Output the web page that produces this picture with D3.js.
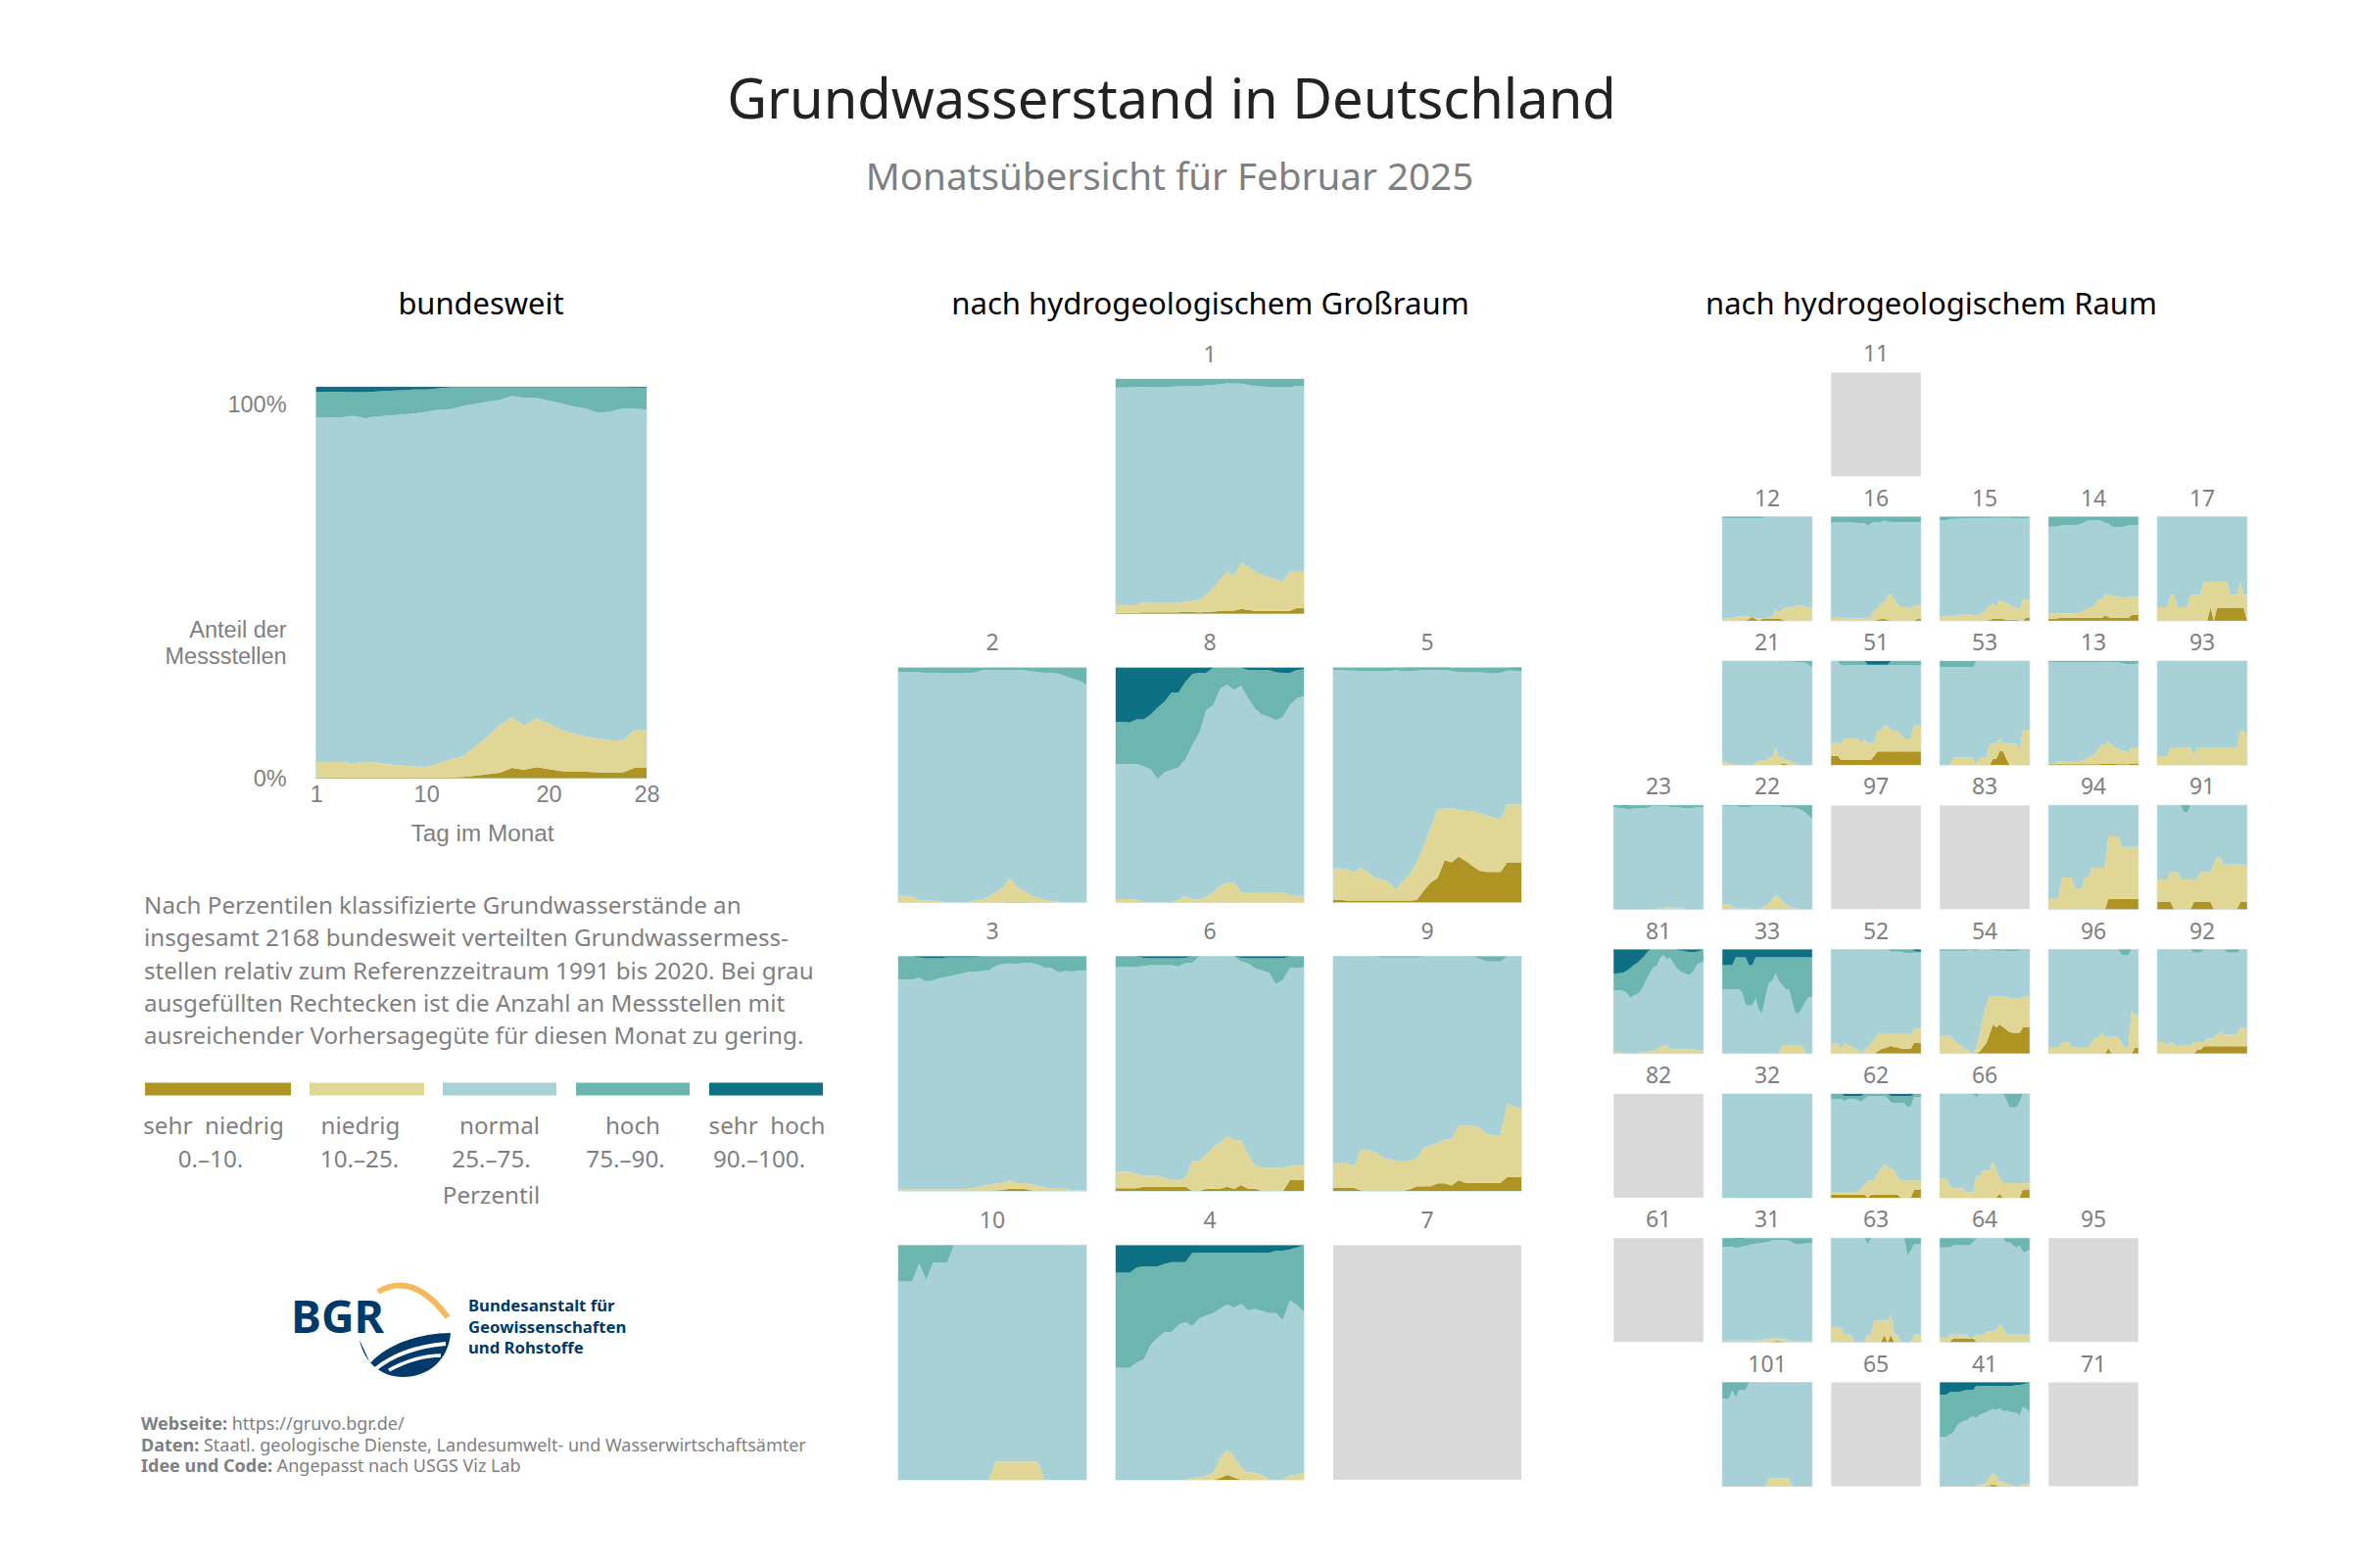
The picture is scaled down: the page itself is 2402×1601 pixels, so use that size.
<!DOCTYPE html>
<html>
<head>
<meta charset="utf-8">
<script src="https://cdn.jsdelivr.net/npm/d3@7"></script>
<style>
  html, body { margin: 0; background: #fff; }
  svg text { font-family: "Noto Sans", sans-serif; white-space: pre; }
  .arial text, text.arial { font-family: "Liberation Sans", Arial, sans-serif; }
</style>
</head>
<body>
<div id="chart"></div>
<script>
// Werte abgelesen: obere Kante jeder Klasse in % pro Tag
// Reihenfolge: [sehr niedrig, niedrig, normal, hoch]; sehr hoch geht immer bis 100
const zero = [0,0,0,0,0,0,0,0,0,0,0,0,0,0,0,0,0,0,0,0,0,0,0,0,0,0,0,0];
const full = [100,100,100,100,100,100,100,100,100,100,100,100,100,100,100,100,100,100,100,100,100,100,100,100,100,100,100,100];

const classNames = ["sehr  niedrig", "niedrig", "normal", "hoch", "sehr  hoch"];
const classRanges = ["0.–10.", "10.–25.", "25.–75.", "75.–90.", "90.–100."];
const classColors = ["#af9323", "#e0d797", "#a8d1d7", "#6db6af", "#0d7083"];
const dayTicks = [1, 10, 20, 28];

const bund = [
  [.2,.2,.2,.2,.2,.2,.2,.2,.2,.2,.2,.2,.3,.6,1,1.4,2.6,2.1,2.8,2.3,1.8,1.6,1.6,1.5,1.4,1.4,2.6,2.6],
  [4.1,4.1,4.1,3.8,4.1,4,3.5,3.2,3,2.9,3.8,4.8,5.6,8,10.5,13.5,15.5,13.5,15.3,14,12.3,11.4,10.7,10.1,9.7,9.6,12.2,12.2],
  [92.2,92.2,92.2,92.6,92,92.4,92.7,92.9,93.2,93.6,94.2,94.3,95.1,95.6,96.2,96.6,97.7,97.2,97.2,96.5,95.8,95,94.5,93.4,93.6,94.4,94.4,94.2],
  [98.7,98.7,98.7,98.6,98.6,98.8,99,99.1,99.3,99.3,99.6,99.9,99.9,99.9,99.9,99.9,99.9,99.9,99.9,99.9,99.9,99.9,99.9,99.9,99.9,99.9,99.8,99.8]
];

const p1 = [
  [.3,.3,.3,.3,.5,.5,.5,.5,.5,.5,.8,.6,.5,.6,.8,1.2,1.3,1.3,2,1.6,1.2,1.2,1.2,1.2,1.2,1.2,2.4,2.4],
  [3.7,3.7,3.6,3.6,5,4.5,4.5,4.5,4.5,4.5,5.1,5.3,6,8,11,14.5,18,16,21.5,20,18,16.5,15.5,14.5,13.7,17.9,17.9,17.9],
  [96.3,96.3,96.5,96.6,96.6,96.7,96.7,96.7,96.7,96.9,96.9,96.9,97,97.3,97.5,97.8,98.1,98,98,97.5,97,96.8,96.5,96.5,96.5,96.5,97.1,97],
  full
];
const p2 = [
  [0,0,0,0,0,0,0,0,0,0,0,0,0,0,0,0,.3,.1,.3,0,0,0,0,0,0,0,0,0],
  [2.7,2.7,2.6,1,1,.6,.3,0,0,0,0,1,1.2,2.3,4.5,6,10.5,6.5,5,3,2,1,.5,.2,0,0,0,0],
  [98.1,98.1,98.1,98,97.7,97.7,97.6,97.6,97.6,97.6,97.7,97.9,98.9,99,99,99,99,99.1,98.9,98.5,98.1,97.8,97.7,97.5,96.4,95.3,94.5,92.7],
  full
];
const p8 = [
  zero,
  [1.4,1.4,1.4,1.2,0,0,0,0,0,1,2.7,1.2,1.2,2.5,4.5,7,8.5,8.5,4.3,4.3,4.3,4.3,4.3,4.3,4.3,3,2.7,2.7],
  [59,59,59,59,58,56.7,52.5,55.5,56.5,57.5,61,67,72,82,84,91,92.7,90.5,92.3,87,82.5,80,79,77.5,79,84,87,88],
  [76.8,76.8,76.6,78,78,80,83,85.5,89.4,89.4,94,97.3,97.8,97.8,100,100,100,100,100,99,99,99,99,98,97.8,97.8,99,99.4]
];
const p5 = [
  [1.1,1.1,.7,.7,.7,.7,.7,.7,.7,.7,.7,.7,1,5,8.5,10.5,18,17,19.5,17.7,15.5,13.5,13,13,13,17,17,17],
  [14.4,14.4,14.2,13,14.8,12.5,10.5,9.8,8.5,5.5,9,12,17,24,32,39.5,40,40,39.5,39,39,38,37,36,35.5,41.7,41.7,41.7],
  [99,99,98.8,98.8,98.5,98.5,98.5,98.5,98.6,99,98.6,98.5,98.8,99,99,99,99,98.7,98,98,98,98,97.8,97.5,97.8,98.8,98.8,98.4],
  [100,100,100,100,100,100,100,100,100,100,100,99.8,99.8,99.8,99.8,99.8,99.8,100,100,100,100,100,100,100,100,100,99.7,99.7]
];
const p3 = [
  [0,0,0,0,0,0,0,0,0,0,0,0,0,0,.2,.5,1,1,1,.4,0,0,0,0,0,0,0,0],
  [.8,.8,.8,.8,.8,.8,.8,.8,.8,.8,1,1.3,2,2.6,3.2,3.4,4.5,3.4,3.4,3,2,1.7,1,1,.9,.4,.4,.4],
  [90.1,90.1,90.1,91,89.4,89.8,90.7,91.3,92,92.6,93.4,93.5,93.8,94,96,96.8,97,96.8,97.2,97.2,96.6,95.2,95,93.2,93.8,93.6,94,94],
  [100,100,100,99.6,99.2,99.2,99.2,99.6,99.6,99.6,99.6,99.6,100,100,100,100,100,100,100,100,100,100,100,100,100,100,100,100]
];
const p6 = [
  [1.2,1.2,1.2,1.2,1.8,1.8,1.8,1.8,1.8,1.8,1.8,0,0,1,1,1,1.8,.9,2.5,1,1,0,0,0,0,4.6,4.6,4.6],
  [8.2,8.2,8.2,7.3,6.5,6.5,6.5,5.5,4.7,4.7,5.5,12.7,12.7,15.5,19,20.5,23.5,21.5,21.8,15.5,11,10,10,10,10,10.8,11,11],
  [95.5,95.5,95.5,95.5,96,96.3,96.3,96.3,96.3,95.7,97.2,97.2,100,100,100,100,100,100,97.8,97,95,94,93,88.2,90,95,95,95.5],
  [100,100,100,100,99.4,99.2,99.2,99.2,99.2,99.2,99.4,100,100,100,100,100,100,100,99.4,99.2,99.2,99.2,99.2,99.2,99.2,100,100,100]
];
const p9 = [
  [1.3,1.3,1.3,1.3,.2,0,0,0,0,0,0,.8,2,2,2,3.3,3.3,2.3,4.6,3.5,3.5,3.5,3.5,3.5,3.5,6,6,6],
  [11.8,11.8,11.8,10.6,17.6,17.5,16.5,14.5,13.5,13,13,13,14,18.5,19.5,20.5,22,22,28,28,28,27,24.5,23.5,23.5,37.5,36,35],
  [100,100,100,100,100,100,100,99.5,99.5,99.5,99.5,99.5,99.5,100,100,100,100,100,100,100,100,99,97.8,97.8,97.8,100,100,100],
  full
];
const p10 = [
  zero,
  [0,0,0,0,0,0,0,0,0,0,0,0,0,0,7.8,7.8,7.8,7.8,7.8,7.8,7.8,0,0,0,0,0,0,0],
  [84.5,84.5,84.5,92.3,85,92.5,92.5,92.5,100,100,100,100,100,100,100,100,100,100,100,100,100,100,100,100,100,100,100,100],
  full
];
const p4 = [
  [0,0,0,0,0,0,0,0,0,0,0,0,0,0,0,.8,2,1,0,0,0,0,0,0,0,0,0,0],
  [0,0,0,0,0,0,0,0,0,0,0,.8,1,1.8,3,9,12.8,10,5,3.2,3,2,.2,0,0,1.8,2,3],
  [47.7,47.7,47.7,50,51.2,57.5,60.5,63,63,66,67.2,65.5,68.8,70,71,73,74.7,73.3,75,72.2,72.8,72,71,71,68,76.5,74.5,71.7],
  [88.3,88.3,88.3,90.5,91,91,91,92,92.8,92.8,92.8,96.7,96.7,96.7,96.7,96.7,96.7,96.7,96.7,96.7,96.7,96.7,96.7,97.7,97.7,98.2,99,100]
];

const p12 = [
  [0,0,0,0,0,0,0,0,1.5,3.5,1.5,0,1.5,2,2,2,2,2,1,0,0,0,0,0,0,0,0,0],
  [2,2,2,2,4,4,4,4,3.5,3.5,2.5,2.5,2,2.5,3,3,11,7,11,12.5,12.5,12.5,14.5,14.5,14.5,13,13,12],
  [98.6,98.6,98.6,98.6,98.6,98.6,98.6,98.6,98.6,98.6,98.6,98.6,98.6,100,100,100,100,100,100,100,100,100,100,100,100,100,100,100],
  full
];
const p16 = [
  [0,0,0,0,0,0,0,0,0,0,0,0,0,0,1,1.5,1.5,1,0,0,0,0,0,0,0,0,1.5,1.5],
  [3.5,3.5,3.5,2,2,2,2,2,2,2,2,3,3.5,11,11.5,17,17,24,25.5,21,16,13,13,13,11,14.5,14.5,14.5],
  [94.5,94.5,94.5,94.5,94.5,94.5,94.5,94.5,94,94,94,91.5,94,94.5,95,95,96.5,95.5,95,95,95,95,95,95,95,95,95,95],
  full
];
const p15 = [
  [0,0,0,0,0,0,0,0,0,0,0,0,0,0,0,1,1.5,2,2,1.5,1,1,1,1,0,0,3,3],
  [4.5,4,4,4,4.5,5,5,5.5,5.5,6,5,5,6.5,7,11,14,17,13,20,18.5,17,15,13.5,12.5,11,20,20.5,20.5],
  [97,97,97,97.5,98,98,98.2,98.2,98.4,98.5,98.5,98.5,98.5,98.5,98.5,98.7,99,99,99,99,99,99,98.5,98.5,98.5,98.5,98.7,99],
  full
];
const p14 = [
  [1.5,1.5,1.5,2.5,2.5,2.5,2.5,2.5,2.5,2.5,2.5,2.5,2.5,2.5,2.5,2.5,2.5,5,3.5,2.5,2.5,2.5,2.5,2.5,2.5,5.5,5.5,5.5],
  [7,7,7,7,7,7,7,7,7,7,8,11,11,13,16,20.5,19.5,26,25,24,24,23,22.5,22,23,23,23,23],
  [90.5,90.5,90.5,91,92,92,92,92,92,92.5,93.5,95,97,97,97,97,96,94,93.5,91,90,90,90,91,91.5,92,92,92],
  full
];
const p17 = [
  [0,0,0,0,0,0,0,0,0,0,0,0,0,0,0,0,13,0,12.5,12.5,12.5,12.5,12.5,12.5,12.5,12.5,12.5,0],
  [13,13,13,13,25,25,13,13,13,13,25,25,25,25,37.5,37.5,37.5,37.5,37.5,37.5,37.5,37.5,25,25,25,37,25,25],
  full, full
];
const p21 = [
  [0,0,0,0,0,0,0,0,0,0,0,0,0,0,0,0,0,0,1,1,0,0,0,0,0,0,0,0],
  [2.5,2.5,1.5,1,1,0,0,0,0,0,2,4,4,4,7,7,17,7,7,5,4,3,1,0,0,0,0,0],
  [100,100,100,100,100,100,100,100,100,100,100,100,100,100,100,100,100,100,100,99.5,99.5,99.5,99,99,98.5,98.5,96,94],
  full
];
const p51 = [
  [8.8,8.8,8.8,4.7,4.7,4.7,4.7,4.7,4.7,4.7,4.7,4.7,4.7,9,13,13,13,13,13,13,13,13,13,13,13,13,13,13],
  [21,21,21,21,25.5,25.5,25.5,25.5,25.5,21,24.5,21,21,21,33,33,38,38,33,33,33,29,25.5,25.5,25.5,38,38,38],
  [100,100,100,96.3,96.3,96.3,96.3,96.3,96.3,96.3,96.3,96.3,96.3,96.3,96.3,96.3,96.3,96.3,96.3,96.3,96.3,96.3,96.3,96.3,96.3,96.3,96.3,96.3],
  [100,100,100,100,100,100,100,100,100,100,100,96.5,96.5,96.5,96.5,96.5,96.5,96.5,100,100,100,100,100,100,100,100,100,100]
];
const p53 = [
  [0,0,0,0,0,0,0,0,0,0,0,0,0,0,0,0,6,6,13.5,13.5,6,0,0,0,0,0,0,0],
  [0,0,0,0,7,7,7,7,7,7,7,0,7,7,7,20.5,20.5,20.5,26,20.5,20.5,20.5,20.5,20.5,14,34,34,34],
  [94,94,94,94,94,94,94,94,94,94,94,100,100,100,100,100,100,100,100,100,100,100,100,100,100,100,100,100],
  full
];
const p13 = [
  [.7,.7,.7,.7,.7,.7,.7,.7,.7,.7,.7,.7,.7,.7,.7,.7,1,1.2,1.5,1.5,1,.8,.8,.8,.8,1.5,1.5,1.5],
  [2,2,2,3.5,3,3,2.5,2.5,3,3.5,4,5.5,7,9,11,15,20,18,22,19,17,15.5,14,13.5,12,17,17,17],
  [98.5,98.5,98.5,98.5,98.5,98.5,98.5,98.5,98.5,98.5,98.5,98.5,98.5,98.5,98.5,98.5,99,99,98.8,98.5,98.5,98.5,98,97.5,97,97,97.5,97.5],
  full
];
const p93 = [
  zero,
  [8.5,8.5,8.5,8.5,17,17,17,17,17,17,17,8.5,17,17,17,17,17,17,17,17,17,17,17,17,17,34,34,27],
  full, full
];
const p23 = [
  zero,
  [0,0,0,0,0,0,0,0,0,0,0,0,0,.5,1.5,1,2.5,1.5,2,1,1,.5,0,0,0,0,0,0],
  [98,98,97,97,96.5,96.5,97,97,97.5,97.5,97.5,98.5,99,99,99,99,99,98.5,98,98,98,97.5,97.5,97.5,97.5,98.5,98,98.5],
  [100,100,100,99.5,99.5,100,100,100,100,100,100,100,100,100,100,100,100,100,100,100,100,100,100,100,100,100,100,100]
];
const p22 = [
  zero,
  [5,5,5,2,1.5,1,1,.5,.5,.3,.3,.3,2,3,5,9,13.5,11,8,5,2.5,1.5,1,.5,0,0,0,0],
  [99,99,99,99,99,98.5,98.5,98.5,98.5,99,99,99,99,99,99,99,99,99,98.5,98.5,98,98,97.5,96.5,95,93,90,87],
  full
];
const p94 = [
  [0,0,0,0,0,0,0,0,0,0,0,0,0,0,0,0,0,0,10,10,10,10,10,10,10,10,10,10],
  [10,10,10,10,30.5,30.5,30.5,30.5,20,20,20,30.5,30.5,40,40,40,40,40,70,70,70,70,60,60,60,60,60,60],
  full, full
];
const p91 = [
  [7,7,7,7,7,0,0,0,0,0,0,7,7,7,7,7,7,0,0,0,0,0,0,0,0,7,7,7],
  [28.5,28.5,28.5,28.5,36,36,36,28.5,28.5,28.5,28.5,28.5,28.5,36,36,36,36,43,50,50,43,43,43,43,43,43,43,43],
  [100,100,100,100,100,100,100,100,93.5,93.5,100,100,100,100,100,100,100,100,100,100,100,100,100,100,100,100,100,100],
  full
];
const p81 = [
  zero,
  [1.5,1.5,1.5,0,0,0,0,0,1,1.5,1.5,2,3,4,6,7.5,7.5,4,4,4,4,4,4,4,4,3,3,3],
  [61,61,61,60,58,53.5,56,57,60,65,72,78,83,84,92,95,91,92,87,82,79,77.5,76,76,79,85,87,88],
  [77,77,77.5,78,80,82,85,87,90,93,97,100,100,100,100,100,100,100,100,100,99,99,98,97.5,97.5,98,99,100]
];
const p33 = [
  zero,
  [0,0,0,0,0,0,0,0,0,0,0,0,0,0,0,0,0,0,8,8,8,8,8,8,8,0,0,0],
  [62,62,62,62,62,62,58,47,46,46,53,42,38.5,55,68,70,77,70,66,62,62,50,38.5,38.5,44,50,54,54],
  [85,85,85,85,92.5,92.5,92.5,92.5,85,85,92.5,92.5,92.5,92.5,92.5,92.5,92.5,92.5,92.5,92.5,92.5,92.5,92.5,92.5,92.5,92.5,92.5,92.5]
];
const p52 = [
  [0,0,0,0,0,0,0,0,0,0,0,0,0,0,2,4,5,6,7.5,6,6,4.5,4.5,4.5,4.5,10,10,10],
  [10,10,10,4,10,8,7,5,4,0,3.5,6,10,13,19.5,19.5,19.5,19.5,19.5,19.5,19.5,19.5,19.5,19.5,17,24,24,24],
  [100,100,100,100,100,100,100,100,100,100,100,100,100,100,100,100,100,100,98,98,98,98,97,96.5,96.5,97,97,97],
  [100,100,100,100,100,100,100,100,100,100,100,100,100,100,100,100,100,100,100,100,100,100,100,100,100,99,98,98]
];
const p54 = [
  [0,0,0,0,0,0,0,0,0,0,0,0,2,6,10,19,28,25,28,25.5,23,20.5,20,20,20,25,25,25],
  [17.5,17.5,17.5,17,14,10,8,6,4,2,0,6,18,35,46,54.5,54.5,54.5,54.5,54.5,54.5,53.5,53.5,53,52.5,54.5,54.5,54.5],
  [99,99,99,99,99,99,99,99,99,100,99,99,100,100,100,100,99,99,99,99,99,98.5,98.5,99,99,100,100,99],
  full
];
const p96 = [
  [0,0,0,0,0,0,0,0,0,0,0,0,0,0,0,0,0,0,5,0,0,0,0,0,0,0,5.5,5.5],
  [5.5,5.5,5.5,5.5,11,11,11,5.5,5.5,5.5,5.5,5.5,5.5,11,15,15,20,16,16,16,16,16,10,5.5,5.5,42,37,37],
  [100,100,100,100,100,100,100,100,100,100,100,100,100,100,100,100,100,100,100,100,100,100,95,95,95,100,100,100],
  full
];
const p92 = [
  [0,0,0,0,0,0,0,0,0,0,0,0,3.5,3.5,7,7,7,7,7,7,7,7,7,7,7,7,7,7],
  [11,11,11,7.5,11,9,7.5,7.5,7.5,7.5,7.5,11,11,11,11,14.5,14.5,14.5,18,21,18,18,18,18,18,25,25,25],
  [100,100,100,100,100,100,100,100,100,100,100,97,97,97,100,100,100,100,100,100,100,97,97,97,97,100,100,100],
  full
];
const p32 = [zero, zero, full, full];
const p62 = [
  [3,3,3,3,3,3,3,3,3,3,3,0,3,3,3,3,3,3,3,3,3,0,0,0,0,8,8,8],
  [5.5,5.5,5.5,5.5,5.5,5.5,5.5,5.5,5.5,8,12,17,17,17,24,27,33,30,28,27,20,17,17,17,17,17,17,17],
  [95,95,95,95,93,95,95,95,94,92.5,95,98,98,98,98,98,98,96,92,91,91,91,91,87,88,97,97,97],
  [100,100,100,100,98,98,98,98,98,98,100,100,100,100,100,100,100,100,98,98,98,98,98,98,98,100,100,100]
];
const p66 = [
  [0,0,0,0,0,0,0,0,0,0,0,0,0,0,0,0,0,0,4,0,0,0,0,0,0,8,8,8],
  [18,18,18,12,9,9,9,9,5,5,5,21,21,26,26,26,35,26,20,14,14,14,14,14,14,14,14,14],
  [100,100,100,100,100,100,100,100,100,100,100,96.5,100,100,100,100,100,100,100,100,94,87,87,87,92,100,100,100],
  full
];
const p31 = [
  [0,0,0,0,0,0,0,0,0,0,0,0,0,0,0,.3,1,1,.3,0,0,0,0,0,0,0,0,0],
  [1.3,1.3,1.3,1.3,1.3,1.3,1.3,1.3,1.3,1.3,1.3,1.5,2,2.5,3,3.5,4.5,3.5,3,2.5,1.5,1,1.3,1.2,1.2,1.2,1.2,1.2],
  [91.5,91.5,91.5,92,90.5,91,92,92.5,93,94,94.5,95,95.5,96,96.5,98,98,98,98,98,97.5,96,94,94,94,95,95,95],
  [100,100,100,100,99.5,99.5,99.5,100,100,100,100,100,100,100,100,100,100,100,100,100,100,100,100,100,100,100,100,100]
];
const p63 = [
  [0,0,0,0,0,0,0,0,0,0,0,0,0,0,0,0,6.5,0,6.5,0,0,0,0,0,0,0,0,0],
  [14,14,14,14,7,7,7,0,0,0,0,7,7,20.5,20.5,20.5,20.5,20.5,26,7,7,0,0,0,0,7,7,7],
  [100,100,100,100,100,100,100,100,100,100,100,94,100,100,100,100,100,100,100,100,100,100,100,83,88,94,94,94],
  full
];
const p64 = [
  [0,0,0,0,3.5,3.5,3.5,3.5,3.5,3.5,3.5,0,0,0,0,0,0,0,0,0,0,0,0,0,0,0,0,0],
  [4,4,4,7,7,7,7,7,7,4,4,7,7,7,10,10,10,12,17,14,7,7,7,7,7,7,7,7],
  [91,91,91,91,93,93,93,93,93,93,96,100,100,100,100,100,100,100,100,100,96,96,93,91,93,87,87,89],
  full
];
const p101 = p10;  // identisch mit Großraum 10
const p41 = p4;    // identisch mit Großraum 4

const grossraumRows = [
  ["", "1", ""],
  ["2", "8", "5"],
  ["3", "6", "9"],
  ["10", "4", "7"]
];
const raumRows = [
  ["", "", "11", "", "", ""],
  ["", "12", "16", "15", "14", "17"],
  ["", "21", "51", "53", "13", "93"],
  ["23", "22", "97", "83", "94", "91"],
  ["81", "33", "52", "54", "96", "92"],
  ["82", "32", "62", "66", "", ""],
  ["61", "31", "63", "64", "95", ""],
  ["", "101", "65", "41", "71", ""]
];
// Regionen ohne Reihe sind grau
const series = {
  "1": p1, "2": p2, "8": p8, "5": p5, "3": p3, "6": p6, "9": p9, "10": p10, "4": p4,
  "12": p12, "16": p16, "15": p15, "14": p14, "17": p17,
  "21": p21, "51": p51, "53": p53, "13": p13, "93": p93,
  "23": p23, "22": p22, "94": p94, "91": p91,
  "81": p81, "33": p33, "52": p52, "54": p54, "96": p96, "92": p92,
  "32": p32, "62": p62, "66": p66,
  "31": p31, "63": p63, "64": p64,
  "101": p101, "41": p41
};

const paragraph = [
  "Nach Perzentilen klassifizierte Grundwasserstände an",
  "insgesamt 2168 bundesweit verteilten Grundwassermess-",
  "stellen relativ zum Referenzzeitraum 1991 bis 2020. Bei grau",
  "ausgefüllten Rechtecken ist die Anzahl an Messstellen mit",
  "ausreichender Vorhersagegüte für diesen Monat zu gering."
];

const grey = "#7f7f7f";
const svg = d3.select("#chart").append("svg")
  .attr("width", 2402).attr("height", 1601)
  .attr("viewBox", "0 0 2402 1601");

const addText = (sel, x, y, str, size, fill, anchor = "middle", weight = 400) =>
  sel.append("text")
    .attr("x", x).attr("y", y)
    .attr("text-anchor", anchor)
    .attr("font-size", size)
    .attr("font-weight", weight)
    .attr("fill", fill)
    .text(str);

// eine Kachel: gestapelte Flächen oder graues Rechteck
const drawPanel = (g, data, w, h) => {
  if (!data) {
    g.append("rect").attr("width", w).attr("height", h).attr("fill", "#d9d9d9");
    return null;
  }
  const x = d3.scaleLinear().domain([1, 28]).range([0, w]);
  const y = d3.scaleLinear().domain([0, 100]).range([h, 0]);
  const days = d3.range(1, 29);
  const edges = [zero, ...data, full];
  // heller Rand wie im Original
  g.append("rect").attr("width", w).attr("height", h)
    .attr("fill", "none").attr("stroke", "#a8d1d7").attr("stroke-width", 1).attr("stroke-opacity", 0.7);
  classColors.forEach((c, i) => {
    const area = d3.area()
      .x(d => x(d))
      .y0(d => y(edges[i][d - 1]))
      .y1(d => y(edges[i + 1][d - 1]));
    g.append("path").attr("d", area(days)).attr("fill", c);
  });
  return x;
};

const drawGrid = (rows, x0, y0, w, h, stepX, stepY, labelDy, labelSize) => {
  rows.forEach((row, r) => row.forEach((name, c) => {
    if (!name) return;
    const g = svg.append("g")
      .attr("transform", `translate(${x0 + c * stepX},${y0 + r * stepY})`);
    drawPanel(g, series[name], w, h);
    addText(g, w / 2, labelDy, name, labelSize, grey);
  }));
};

// Titel
addText(svg, 1196, 120.5, "Grundwasserstand in Deutschland", 56, "#222");
addText(svg, 1194, 193.5, "Monatsübersicht für Februar 2025", 38.6, grey);
addText(svg, 491, 320.5, "bundesweit", 30.9, "#000");
addText(svg, 1235.5, 320.5, "nach hydrogeologischem Großraum", 31.1, "#000");
addText(svg, 1971.5, 320.5, "nach hydrogeologischem Raum", 31, "#000");

// bundesweit
const mainW = 337.3, mainH = 399.5;
const mainG = svg.append("g").attr("transform", "translate(322.7,395)");
const mainX = drawPanel(mainG, bund, mainW, mainH);
const axisG = mainG.append("g")
  .attr("class", "arial")
  .attr("transform", `translate(0,${mainH})`)
  .call(d3.axisBottom(mainX).tickValues(dayTicks).tickSize(0).tickPadding(7.5).tickFormat(d3.format("d")));
axisG.select(".domain").remove();
axisG.selectAll("text").attr("font-size", 23.5).attr("fill", grey);

const leftLabels = svg.append("g").attr("class", "arial");
addText(leftLabels, 292.6, 420.5, "100%", 23.5, grey, "end");
addText(leftLabels, 292.6, 803, "0%", 23.5, grey, "end");
addText(leftLabels, 292.6, 651, "Anteil der", 23.5, grey, "end");
addText(leftLabels, 292.6, 677.5, "Messstellen", 23.5, grey, "end");
addText(leftLabels, 492.5, 858.5, "Tag im Monat", 24.3, grey);

// Text
paragraph.forEach((line, i) => addText(svg, 147, 933 + i * 33.3, line, 24.2, grey, "start"));

// Legende
const legendBands = [[148, 297], [316, 433], [452, 568], [588, 704], [724, 840]];
const legendTextX = [218, 368, 510, 646, 783];
const legendRangeX = [215, 367, 501.5, 638.5, 775];
classColors.forEach((c, i) => {
  svg.append("rect")
    .attr("x", legendBands[i][0]).attr("y", 1105.5)
    .attr("width", legendBands[i][1] - legendBands[i][0]).attr("height", 13)
    .attr("fill", c);
  addText(svg, legendTextX[i], 1158, classNames[i], 24.2, grey);
  addText(svg, legendRangeX[i], 1192, classRanges[i], 24.2, grey);
});
addText(svg, 501.5, 1228.5, "Perzentil", 24.2, grey);

// BGR Logo
const bgrBlue = "#003a6b";
const logo = svg.append("g");
addText(logo, 297, 1361, "BGR", 46.5, bgrBlue, "start", 700);
logo.append("path")
  .attr("d", "M386 1319 Q422 1298 457 1345")
  .attr("fill", "none").attr("stroke", "#f5b95a").attr("stroke-width", 6);
logo.append("path")
  .attr("d", "M367 1368 C372 1392 390 1406 411 1406 C438 1406 458 1388 460 1361 C430 1361 395 1372 378 1392 Z")
  .attr("fill", bgrBlue);
logo.append("path")
  .attr("d", "M383 1398 Q410 1376 455 1372")
  .attr("fill", "none").attr("stroke", "#fff").attr("stroke-width", 4);
logo.append("path")
  .attr("d", "M397 1399 Q425 1384 450 1384")
  .attr("fill", "none").attr("stroke", "#fff").attr("stroke-width", 3.5);
["Bundesanstalt für", "Geowissenschaften", "und Rohstoffe"].forEach((line, i) =>
  addText(logo, 478, 1339 + i * 21.6, line, 16.7, bgrBlue, "start", 700));

// Fussnote
const notes = [
  ["Webseite:", " https://gruvo.bgr.de/"],
  ["Daten:", " Staatl. geologische Dienste, Landesumwelt- und Wasserwirtschaftsämter"],
  ["Idee und Code:", " Angepasst nach USGS Viz Lab"]
];
notes.forEach((n, i) => {
  const t = addText(svg, 144, 1460 + i * 21.5, "", 18, grey, "start");
  t.append("tspan").attr("font-weight", 700).text(n[0]);
  t.append("tspan").text(n[1]);
});

// Kacheln
drawGrid(grossraumRows, 917, 387, 192, 239.5, 222, 294.8, -17.5, 23);
drawGrid(raumRows, 1647.3, 380.4, 91.5, 106, 111, 147.3, -11, 23);
</script>
</body>
</html>
